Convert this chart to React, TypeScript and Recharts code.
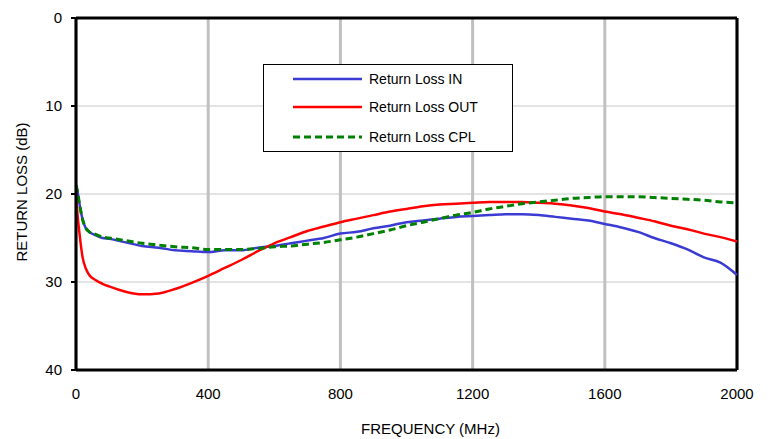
import { LineChart, Line, XAxis, YAxis, CartesianGrid, Legend, ReferenceLine } from 'recharts';

document.body.style.margin = '0';

const freq = [
  0, 5, 10, 20, 30, 40, 60, 80, 100, 150, 200, 250, 300, 350, 400, 450, 500, 550, 600, 650, 700, 750, 800,
  850, 900, 950, 1000, 1050, 1100, 1150, 1200, 1250, 1300, 1350, 1400, 1450, 1500, 1550, 1600, 1650, 1700,
  1750, 1800, 1850, 1900, 1950, 2000,
];

const lossIn = [
  19.0, 19.8, 21.0, 22.9, 23.9, 24.3, 24.7, 25.0, 25.1, 25.5, 25.9, 26.1, 26.4, 26.5, 26.6, 26.4, 26.4, 26.1,
  25.9, 25.6, 25.3, 25.0, 24.5, 24.3, 23.9, 23.6, 23.2, 23.0, 22.8, 22.6, 22.5, 22.4, 22.3, 22.3, 22.4, 22.6,
  22.8, 23.0, 23.4, 23.8, 24.3, 25.0, 25.6, 26.3, 27.2, 27.8, 29.2,
];

const lossOut = [
  20.0, 22.5, 24.3, 27.2, 28.5, 29.2, 29.8, 30.2, 30.5, 31.1, 31.4, 31.3, 30.8, 30.1, 29.3, 28.4, 27.5, 26.5,
  25.6, 24.9, 24.2, 23.7, 23.2, 22.8, 22.4, 22.0, 21.7, 21.4, 21.2, 21.1, 21.0, 20.9, 20.9, 20.9, 21.0, 21.1,
  21.3, 21.6, 22.0, 22.3, 22.7, 23.1, 23.6, 24.0, 24.5, 24.9, 25.4,
];

const lossCpl = [
  19.0, 19.8, 21.0, 22.9, 23.9, 24.3, 24.6, 24.9, 25.0, 25.3, 25.6, 25.8, 26.0, 26.1, 26.3, 26.3, 26.3, 26.2,
  26.0, 25.9, 25.7, 25.5, 25.2, 24.9, 24.5, 24.1, 23.6, 23.2, 22.8, 22.4, 22.1, 21.7, 21.4, 21.1, 20.9, 20.7,
  20.5, 20.4, 20.3, 20.3, 20.3, 20.4, 20.5, 20.6, 20.7, 20.9, 21.0,
];

const xTicks = [0, 400, 800, 1200, 1600, 2000];
const yTicks = [0, 10, 20, 30, 40];
const seriesOrder = ['in', 'out', 'cpl'];

const data = freq.map((f, i) => ({ f, in: lossIn[i], out: lossOut[i], cpl: lossCpl[i] }));

const font = '"Liberation Sans", Arial, sans-serif';

const LegendBox = ({ payload }: any) => {
  const rows = [15, 43, 73];
  const items = [...(payload || [])].sort(
    (a: any, b: any) => seriesOrder.indexOf(a.dataKey) - seriesOrder.indexOf(b.dataKey)
  );
  return (
    <svg width={250} height={88} style={{ display: 'block' }}>
      <rect x={0.5} y={0.5} width={249} height={87} fill="#fff" stroke="#000" strokeWidth={1} />
      {items.map((p: any, i: number) => (
        <g key={p.value}>
          <line
            x1={30}
            x2={99}
            y1={rows[i]}
            y2={rows[i]}
            stroke={p.color}
            strokeWidth={p.payload?.strokeWidth ?? 2.5}
            strokeDasharray={p.payload?.strokeDasharray}
          />
          <text x={106} y={rows[i] + 5} fontSize={14} fontFamily={font} fill="#000">
            {p.value}
          </text>
        </g>
      ))}
    </svg>
  );
};

export default function App() {
  return (
    <LineChart width={772} height={439} data={data} margin={{ top: 18, right: 35, bottom: 0, left: 0 }}>
      <CartesianGrid vertical={false} stroke="#c8c8c8" strokeWidth={1} />
      <CartesianGrid horizontal={false} stroke="#c0c0c0" strokeWidth={3} />
      <XAxis
        dataKey="f"
        type="number"
        domain={[0, 2000]}
        ticks={xTicks}
        tickLine={false}
        axisLine={{ stroke: '#000', strokeWidth: 3 }}
        tick={{ fontSize: 15, fill: '#000', fontFamily: font }}
        tickMargin={12}
        height={69}
        label={{
          value: 'FREQUENCY (MHz)',
          position: 'insideBottom',
          offset: 5,
          dx: 24,
          style: { fontSize: 15, fill: '#000', fontFamily: font },
        }}
      />
      <YAxis
        type="number"
        domain={[0, 40]}
        reversed
        ticks={yTicks}
        width={76}
        tickSize={5}
        tickLine={{ stroke: '#000', strokeWidth: 2 }}
        axisLine={{ stroke: '#000', strokeWidth: 3 }}
        tick={{ fontSize: 15, fill: '#000', fontFamily: font }}
        tickMargin={9}
        label={{
          value: 'RETURN LOSS (dB)',
          angle: -90,
          position: 'insideLeft',
          offset: 22,
          dy: -2,
          style: { fontSize: 15, fill: '#000', fontFamily: font, textAnchor: 'middle' },
        }}
      />
      <ReferenceLine y={0} stroke="#000" strokeWidth={3} />
      <ReferenceLine x={2000} stroke="#000" strokeWidth={3} />
      <Legend
        layout="vertical"
        align="center"
        verticalAlign="middle"
        content={<LegendBox />}
        wrapperStyle={{ left: 263, top: 64, width: 250, height: 88 }}
      />
      <Line dataKey="in" name="Return Loss IN" type="monotone" stroke="#3b3bd4" strokeWidth={2.5} dot={false} isAnimationActive={false} />
      <Line dataKey="out" name="Return Loss OUT" type="monotone" stroke="#ff0000" strokeWidth={2.5} dot={false} isAnimationActive={false} />
      <Line dataKey="cpl" name="Return Loss CPL" type="monotone" stroke="#008000" strokeWidth={3} strokeDasharray="7 4" dot={false} isAnimationActive={false} />
    </LineChart>
  );
}
